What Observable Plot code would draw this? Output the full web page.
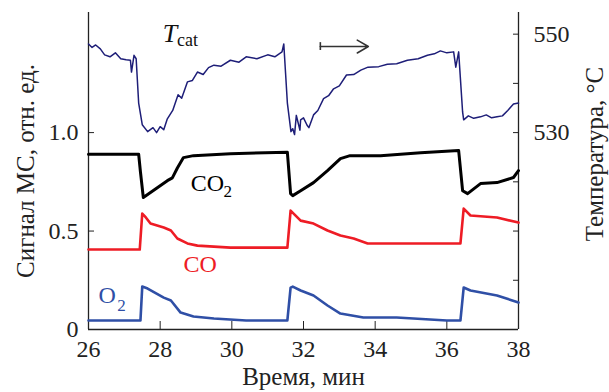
<!DOCTYPE html>
<html><head><meta charset="utf-8">
<script src="https://cdn.jsdelivr.net/npm/d3@7"></script>
<script src="https://cdn.jsdelivr.net/npm/@observablehq/plot@0.6"></script>
<style>body{margin:0;background:#fff}</style>
</head><body><div id="chart"></div>
<script>
// Catalyst temperature, °C (right axis)
const tempTime = [26.0,26.1,26.2,26.33,26.45,26.6,26.75,26.9,27.05,27.17,27.2,27.27,27.33,27.4,27.5,27.65,27.8,27.9,28.0,28.1,28.2,28.35,28.5,28.6,28.76,28.9,29.04,29.2,29.35,29.5,29.7,29.96,30.2,30.4,30.7,31.0,31.2,31.4,31.45,31.5,31.55,31.65,31.7,31.75,31.8,31.85,31.9,31.92,32.0,32.1,32.15,32.28,32.4,32.56,32.7,32.84,33.0,33.2,33.4,33.6,33.8,34.1,34.34,34.6,34.9,35.2,35.46,35.65,35.82,36.0,36.19,36.25,36.33,36.44,36.47,36.6,36.75,36.94,37.1,37.25,37.4,37.55,37.7,37.86,38.0];
const tempValues = [548.0,547.3,547.8,547.0,545.8,545.4,546.2,545.0,544.8,544.7,542.3,545.7,545.0,536,531.6,530.2,531.0,530.0,531.2,530.6,532.8,534.5,537.7,537.0,540.3,540.6,542.3,541.8,543.2,543.7,543.5,544.7,544.3,545.4,545.0,545.8,545.4,546.4,548,542,536,530.2,530.8,529.6,533.5,532,530.5,532.6,533,531.5,531,533.6,534.5,536.9,537.5,538.9,539.5,541.7,541.8,542.7,543.3,543.4,543.9,544.0,544.7,545.0,545.7,546.0,546.6,546.2,546.4,543.3,546.4,534.2,532.6,533.4,532.9,533.2,533.6,533.0,533.2,533.4,534.5,535.8,536.0];

// MS signals, relative units (left axis)
const co2Time = [26.0,27.4,27.45,27.53,27.8,28.2,28.34,28.48,28.65,28.93,29.96,31.55,31.64,31.7,31.92,32.28,32.67,33.03,33.3,34.15,35.27,36.33,36.44,36.58,36.94,37.4,37.86,38.0];
const co2Values = [0.89,0.89,0.80,0.67,0.705,0.756,0.77,0.82,0.873,0.883,0.893,0.90,0.69,0.68,0.705,0.746,0.807,0.868,0.883,0.883,0.898,0.909,0.705,0.69,0.741,0.746,0.772,0.807];

const coTime = [26.0,27.43,27.5,27.6,27.73,28.1,28.3,28.48,28.76,29.04,29.96,31.55,31.64,31.92,32.28,32.67,33.03,33.4,33.79,34.6,36.38,36.47,36.66,37.4,38.0];
const coValues = [0.406,0.406,0.589,0.569,0.538,0.518,0.503,0.462,0.437,0.426,0.416,0.416,0.604,0.553,0.538,0.503,0.477,0.462,0.437,0.437,0.437,0.614,0.579,0.569,0.543];

const o2Time = [26.0,27.45,27.5,27.65,28.1,28.3,28.57,28.93,29.5,30.4,31.55,31.64,31.7,31.92,32.28,32.67,33.03,33.67,34.6,36.0,36.38,36.47,36.66,37.4,38.0];
const o2Values = [0.046,0.046,0.218,0.208,0.162,0.147,0.086,0.066,0.056,0.046,0.046,0.213,0.218,0.198,0.173,0.122,0.081,0.061,0.061,0.046,0.046,0.213,0.198,0.173,0.137];

// ticks
const xTicks = [26,28,30,32,34,36,38];
const leftTicks = [0,0.5,1.0];
const rightTicks = [550,540,530,520,510,500];
const rightLabelled = [550,530];

// annotation labels
const labelMain = [
  {text:"CO", t:28.85, v:0.741, color:"#000"},
  {text:"CO", t:28.65, v:0.33, color:"#ee1c25"},
  {text:"O", t:26.28, v:0.173, color:"#2f4fa6"}
];
const labelSub = [
  {text:"2", t:29.77, v:0.70, color:"#000"},
  {text:"2", t:26.8, v:0.124, color:"#2f4fa6"}
];
const arrowData = [{t1:32.47, t2:33.81, v:1.437}];
const tcatLabel = {t:28.07, v:1.5, sub:"cat", tSub:28.47, vSub:1.467};

const toV = T => (T - 530) / 40 + 1;   // temperature -> left-axis units
const series = (ts, vs) => ts.map((t, i) => ({t, v: vs[i]}));
const temp = tempTime.map((t, i) => ({t, v: toV(tempValues[i])}));

const font = "'Liberation Serif','Times New Roman',serif";

const chart = Plot.plot({
  width: 609, height: 392,
  marginLeft: 88, marginRight: 91, marginTop: 12, marginBottom: 63,
  style: {fontFamily: font, fontSize: "24px", background: "#fff", color: "#222"},
  x: {type: "linear", domain: [26, 38]},
  y: {type: "linear", domain: [0, 1.61]},
  marks: [
    Plot.ruleX([26, 38], {stroke: "#222", strokeWidth: 1.3}),
    Plot.ruleY([0], {stroke: "#222", strokeWidth: 1.3}),
    Plot.axisX(xTicks, {tickSize: -8, tickPadding: 18, fontSize: 24, label: null, tickFormat: d => String(d)}),
    Plot.axisY(leftTicks, {anchor: "left", tickSize: -6, tickPadding: 16, fontSize: 24, label: null,
      tickFormat: d => d === 0 ? "0" : d.toFixed(1)}),
    Plot.axisY(rightTicks.map(toV), {anchor: "right", tickSize: -6, tickPadding: 21, fontSize: 24, label: null,
      tickFormat: d => { const T = Math.round((d - 1) * 40 + 530); return rightLabelled.includes(T) ? String(T) : ""; }}),
    Plot.line(series(o2Time, o2Values), {x: "t", y: "v", stroke: "#2f4fa6", strokeWidth: 2.6}),
    Plot.line(series(coTime, coValues), {x: "t", y: "v", stroke: "#ee1c25", strokeWidth: 2.6}),
    Plot.line(series(co2Time, co2Values), {x: "t", y: "v", stroke: "#000", strokeWidth: 3}),
    Plot.line(temp, {x: "t", y: "v", stroke: "#1e1e78", strokeWidth: 1.5}),
    Plot.text(labelMain, {x: "t", y: "v", text: "text", fill: "color", textAnchor: "start", fontSize: 24}),
    Plot.text(labelSub, {x: "t", y: "v", text: "text", fill: "color", textAnchor: "start", fontSize: 17}),
    Plot.text([tcatLabel], {x: "t", y: "v", text: () => "T", textAnchor: "start", fontSize: 26, fontStyle: "italic", fill: "#111"}),
    Plot.text([tcatLabel], {x: "tSub", y: "vSub", text: "sub", textAnchor: "start", fontSize: 18, fill: "#111"}),
    Plot.arrow(arrowData, {x1: "t1", x2: "t2", y1: "v", y2: "v", stroke: "#333", strokeWidth: 1.6, headLength: 12}),
    Plot.ruleX(arrowData, {x: "t1", y1: d => d.v - 0.02, y2: d => d.v + 0.02, stroke: "#333", strokeWidth: 1.6}),
    Plot.text(["Время, мин"], {frameAnchor: "bottom", textAnchor: "middle", lineAnchor: "middle", dy: 47, fontSize: 25, fill: "#222"}),
    Plot.text(["Сигнал МС, отн. ед."], {frameAnchor: "left", textAnchor: "middle", lineAnchor: "middle", dx: -63, rotate: -90, fontSize: 25, fill: "#222"}),
    Plot.text(["Температура, °C"], {frameAnchor: "right", textAnchor: "middle", lineAnchor: "middle", dx: 76, dy: -17, rotate: -90, fontSize: 25, fill: "#222"})
  ]
});
document.getElementById("chart").appendChild(chart);
</script>
</body></html>
